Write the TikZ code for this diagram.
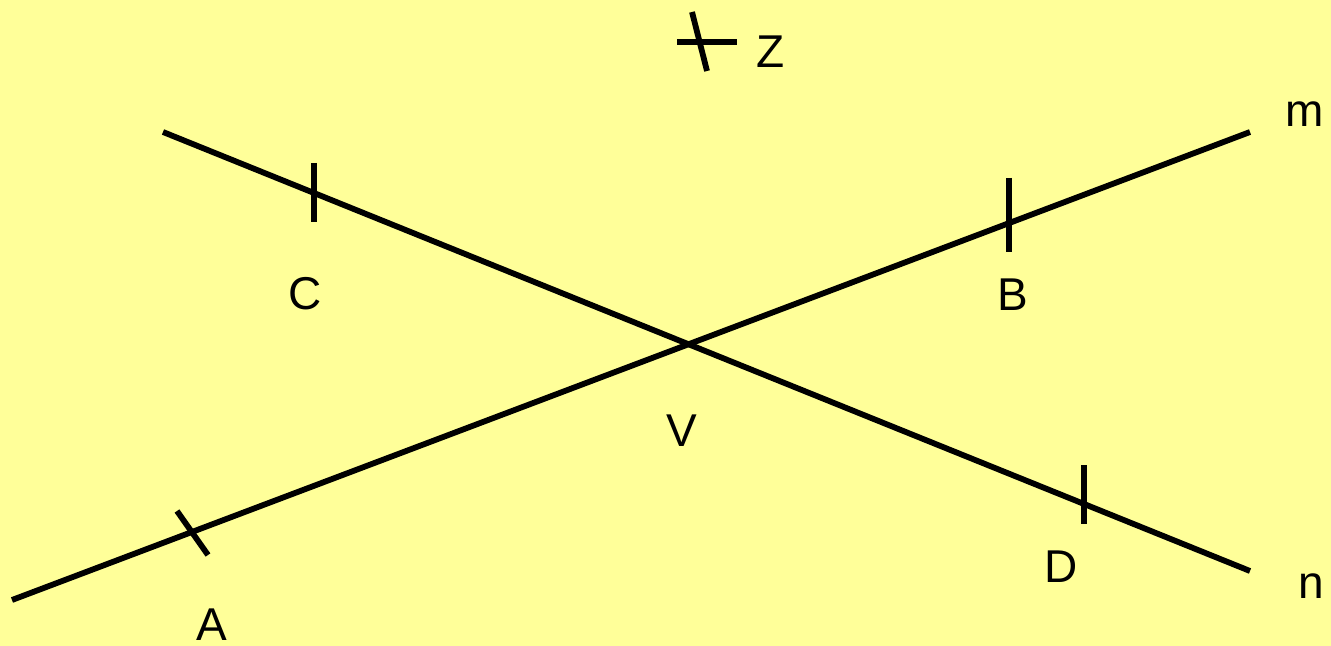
\documentclass[tikz,border=0pt]{standalone}
\usepackage{fontspec}
\setmainfont{Liberation Sans}
\definecolor{paper}{HTML}{FFFF99}

\begin{document}
\begin{tikzpicture}[x=0.5pt, y=-0.5pt, line width=2.9pt,
	lbl/.style={anchor=base, inner sep=0pt, font=\fontsize{23}{27}\selectfont}]
	\fill[paper] (0,0) rectangle (1331,646);
	\useasboundingbox (0,0) rectangle (1331,646);
	% the two lines
	\coordinate (m0) at (12,600);  \coordinate (m1) at (1250,132);
	\coordinate (n0) at (163,132); \coordinate (n1) at (1250,571);
	\draw (m0) -- (m1);
	\draw (n0) -- (n1);
	% tick marks
	\coordinate (c0) at (314,163);  \coordinate (c1) at (314,222);
	\coordinate (b0) at (1009,178); \coordinate (b1) at (1009,252);
	\coordinate (d0) at (1084,465); \coordinate (d1) at (1084,524);
	\coordinate (a0) at (177,511);  \coordinate (a1) at (208,555);
	\draw (c0) -- (c1);
	\draw (b0) -- (b1);
	\draw (d0) -- (d1);
	\draw (a0) -- (a1);
	% the lone mark
	\coordinate (z0) at (677,42); \coordinate (z1) at (737,42);
	\coordinate (z2) at (692,12); \coordinate (z3) at (707,71);
	\draw (z0) -- (z1);
	\draw (z2) -- (z3);
	% labels
	\node[lbl] (Z) at (771,68) {Z};
	\node[lbl] (m) at (1305,127) {m};
	\node[lbl] (C) at (305,310) {C};
	\node[lbl] (B) at (1013,311) {B};
	\node[lbl] (V) at (682,446) {V};
	\node[lbl] (A) at (212,640) {A};
	\node[lbl] (D) at (1061,582) {D};
	\node[lbl] (n) at (1311,598) {n};
\end{tikzpicture}
\end{document}
